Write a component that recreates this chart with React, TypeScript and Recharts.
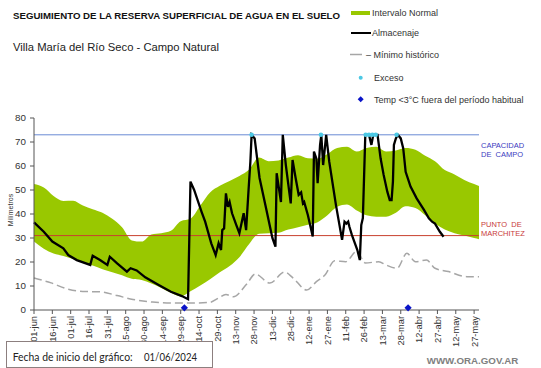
import React from "react";
import {
  ComposedChart,
  Area,
  Line,
  Scatter,
  XAxis,
  YAxis,
  ReferenceLine,
} from "recharts";

// days counted from 01/06/2024
const tickDays = [0, 15, 30, 45, 60, 75, 90, 105, 120, 135, 150, 165, 180, 195, 210, 225, 240, 255, 270, 285, 300, 315, 330, 345, 360];
const tickLabels = [
  "01-jun", "16-jun", "01-jul", "16-jul", "31-jul", "15-ago", "30-ago", "14-sep", "29-sep",
  "14-oct", "29-oct", "13-nov", "28-nov", "13-dic", "28-dic", "12-ene", "27-ene", "11-feb",
  "26-feb", "13-mar", "28-mar", "12-abr", "27-abr", "12-may", "27-may",
];

const bandDays = [0, 8, 16, 24, 32, 40, 48, 56, 64, 72, 80, 88, 96, 104, 112, 120, 128, 136, 144, 152, 160, 168, 176, 184, 192, 200, 208, 216, 224, 232, 240, 248, 256, 264, 272, 280, 288, 296, 304, 312, 320, 328, 336, 344, 352, 360, 364];
const bandLow = [28.5, 25.5, 23.5, 22.5, 21.2, 19.6, 18.5, 17, 15.7, 14.5, 13, 12.5, 11, 9.2, 7.2, 5.7, 7.8, 10.2, 12.8, 15.7, 18.3, 22, 27.5, 31.8, 32, 32.2, 33.5, 34.5, 35.5, 36.6, 39.5, 43, 44, 41.5, 39.5, 38.9, 38.9, 40.5, 43.2, 42.5, 39.5, 36, 33.5, 32, 31, 30, 29.5];
const bandHigh = [52.5, 51, 47.5, 45.4, 45.5, 43.5, 42, 40.5, 38, 34.5, 29, 28.5, 31.5, 32, 33, 37, 38, 43.5, 49, 51.8, 53.8, 55.8, 58.5, 63.5, 62, 62.3, 63.5, 64.5, 63.2, 63, 65, 67.5, 68, 66, 67.5, 68, 66, 66.5, 67.5, 66.8, 64.3, 62, 58.3, 56.5, 54.2, 52.5, 51.7];

const storageDays = [0, 8, 15, 24, 28, 35, 46, 48, 54, 60, 62, 68, 76, 79, 84, 91, 102, 112, 121, 126, 128, 131, 137, 140, 145, 148.6, 151, 153, 154, 155.5, 157, 158.6, 160, 162, 165.5, 168, 171.5, 173.5, 175.5, 177, 178, 180.5, 184.5, 190, 195, 197.5, 198.5, 202, 203.5, 206, 210, 211.5, 214, 216.5, 218.5, 220, 221, 224, 228, 229, 231, 232, 234, 235, 236.5, 239, 241.5, 247, 252, 254, 255.5, 257, 258, 260, 264.5, 266.5, 267.7, 269, 271, 274, 276, 277.5, 281, 283.5, 286, 289, 291, 292.5, 293.6, 294.4, 296, 297.6, 300, 302, 304, 308, 313, 319, 323, 325.6, 328, 332, 335];
const storageValues = [36.5, 32.6, 28.5, 25.7, 22.9, 20.8, 18.8, 22.6, 20.8, 18.8, 22.2, 19.4, 16, 17.4, 16.5, 13.6, 10.4, 7.6, 5.8, 4.5, 53.5, 50, 41, 36.8, 27.8, 22.9, 27.8, 25, 33.3, 34, 48.6, 43, 45, 40.3, 35.4, 32, 40.3, 33.3, 50, 61.8, 73, 71.5, 55, 42, 30, 26.4, 57, 45, 73, 60.4, 44.4, 62.5, 55, 48, 49, 44.4, 45, 39.6, 30.6, 66, 63, 52.8, 68.8, 73, 60.4, 73, 61.8, 43.7, 29.2, 36.8, 36, 36.8, 34.7, 31.3, 25, 20.8, 35.4, 38.3, 73, 73, 68.8, 73, 73, 63.2, 56.3, 49.3, 45.8, 45.8, 53.5, 68.8, 71.5, 73, 71.5, 67.4, 57.6, 51.4, 46.5, 41.7, 38.2, 36.8, 36, 32.6, 30.5];

const minDays = [0, 14, 27, 40, 54, 68, 81, 97, 117, 133, 144, 151, 157, 163, 174, 181, 193, 205, 212, 223, 231, 238, 246, 255, 264, 271, 282, 288, 297, 305, 312, 321, 328, 339, 354, 364];
const minValues = [13.3, 11.3, 8.8, 7.7, 7.6, 6, 4.4, 3.3, 2.9, 2.9, 3.2, 5, 6.5, 5.5, 10.8, 15, 11.2, 15.8, 13.3, 8.3, 11.8, 14.6, 20.5, 20.1, 24.5, 19.6, 20.1, 18.75, 17.4, 23.6, 20.1, 20.8, 17.4, 16, 13.9, 13.9];

const excesoDays = [178, 234.7, 271.3, 274, 276.8, 279.5, 296.6];
const excesoValue = 73;
const tempDays = [123, 306];
const tempValue = 0.9;

const capacidadCampo = 73;
const puntoMarchitez = 31;

const bandData = bandDays.map((day, i) => ({ day, range: [bandLow[i], bandHigh[i]] }));
const storageData = storageDays.map((day, i) => ({ day, value: storageValues[i] }));
const minData = minDays.map((day, i) => ({ day, value: minValues[i] }));
const excesoData = excesoDays.map((day) => ({ day, value: excesoValue }));
const tempData = tempDays.map((day) => ({ day, value: tempValue }));

const DayTick = (props: any) => {
  const { x, y, payload } = props;
  const bx = x + 3.4;
  return (
    <text
      x={bx}
      y={y}
      transform={`rotate(-90, ${bx}, ${y})`}
      textAnchor="end"
      fontSize={9.3}
      fill="#333"
    >
      {tickLabels[tickDays.indexOf(payload.value)]}
    </text>
  );
};

const Dot = (props: any) => (
  <circle cx={props.cx} cy={props.cy} r={2.3} fill="#4cc8e4" />
);

const Diamond = (props: any) => {
  const { cx, cy } = props;
  return (
    <polygon
      points={`${cx},${cy - 3.6} ${cx + 3.6},${cy} ${cx},${cy + 3.6} ${cx - 3.6},${cy}`}
      fill="#0a14c8"
    />
  );
};

const App = () => {
  return (
    <div
      style={{
        position: "absolute",
        left: 0,
        top: 0,
        width: 541,
        height: 368,
        background: "#fff",
        fontFamily: '"Liberation Sans", Arial, sans-serif',
      }}
    >
      <ComposedChart width={541} height={368} margin={{ top: 118, right: 62, bottom: 18, left: 0 }}>
        <XAxis
          dataKey="day"
          type="number"
          domain={[0, 364]}
          ticks={tickDays}
          interval={0}
          tick={<DayTick />}
          tickSize={4}
          tickMargin={2}
          height={40}
          stroke="#555"
        />
        <YAxis
          type="number"
          domain={[0, 80]}
          ticks={[0, 10, 20, 30, 40, 50, 60, 70, 80]}
          width={34}
          tickSize={4}
          tickMargin={4}
          tick={{ fontSize: 9.8, fill: "#333" }}
          stroke="#555"
        />
        <Area
          data={bandData}
          dataKey="range"
          type="monotone"
          fill="#99c800"
          fillOpacity={1}
          stroke="none"
          isAnimationActive={false}
        />
        <ReferenceLine y={capacidadCampo} stroke="#6a8ad4" strokeWidth={1} />
        <ReferenceLine y={puntoMarchitez} stroke="#c8402e" strokeWidth={1} />
        <Line
          data={minData}
          dataKey="value"
          type="monotone"
          stroke="#a6a6a6"
          strokeWidth={1.5}
          strokeDasharray="8 4"
          dot={false}
          isAnimationActive={false}
        />
        <Line
          data={storageData}
          dataKey="value"
          type="linear"
          stroke="#000"
          strokeWidth={2.3}
          dot={false}
          isAnimationActive={false}
        />
        <Scatter data={excesoData} dataKey="value" shape={<Dot />} isAnimationActive={false} />
        <Scatter data={tempData} dataKey="value" shape={<Diamond />} isAnimationActive={false} />
      </ComposedChart>

      <svg
        width={541}
        height={368}
        style={{ position: "absolute", left: 0, top: 0, pointerEvents: "none" }}
      >
        <text x={13} y={19} fontSize={9.5} fontWeight="bold" fill="#111" textLength={327} lengthAdjust="spacingAndGlyphs">
          SEGUIMIENTO DE LA RESERVA SUPERFICIAL DE AGUA EN EL SUELO
        </text>
        <text x={13} y={50.5} fontSize={11.2} fill="#222" textLength={206} lengthAdjust="spacingAndGlyphs">
          Villa María del Río Seco - Campo Natural
        </text>

        {/* legend */}
        <rect x={351} y={11} width={19} height={4} fill="#99c800" />
        <text x={372} y={16.2} fontSize={9} fill="#333">Intervalo Normal</text>
        <line x1={351} x2={371} y1={33} y2={33} stroke="#000" strokeWidth={2} />
        <text x={372} y={36.2} fontSize={9} fill="#333">Almacenaje</text>
        <line x1={350} x2={362} y1={54.5} y2={54.5} stroke="#a6a6a6" strokeWidth={1.5} />
        <text x={366} y={57.7} fontSize={9} fill="#333">– Mínimo histórico</text>
        <circle cx={360.7} cy={77.7} r={2} fill="#4cc8e4" />
        <text x={374} y={80.9} fontSize={9} fill="#333">Exceso</text>
        <polygon points="360.7,96.3 363.7,99.3 360.7,102.3 357.7,99.3" fill="#0a14c8" />
        <text x={374} y={102.5} fontSize={9} fill="#333">Temp &lt;3°C fuera del período habitual</text>

        {/* right side labels */}
        <text x={481} y={147.7} fontSize={7.5} fill="#3b3bc0">CAPACIDAD</text>
        <text x={481} y={156.8} fontSize={7.5} fill="#3b3bc0" style={{ whiteSpace: "pre" }}>DE  CAMPO</text>
        <text x={481} y={227} fontSize={7.5} fill="#c83a3a" style={{ whiteSpace: "pre" }}>PUNTO  DE</text>
        <text x={481} y={236} fontSize={7.5} fill="#c83a3a">MARCHITEZ</text>

        <text
          x={12.5}
          y={210}
          transform="rotate(-90, 12.5, 210)"
          textAnchor="middle"
          fontSize={7}
          fill="#333"
        >
          Milímetros
        </text>

        {/* footer */}
        <rect x={6.5} y={341.5} width={206} height={26} fill="#fff" stroke="#8c7f7f" strokeWidth={1} />
        <text x={12.7} y={361.3} fontSize={11} fill="#222" fontFamily="Lato, sans-serif" textLength={120} lengthAdjust="spacingAndGlyphs">
          Fecha de inicio del gráfico:
        </text>
        <text x={144} y={361.3} fontSize={11} fill="#222" fontFamily="Lato, sans-serif" textLength={53} lengthAdjust="spacingAndGlyphs">
          01/06/2024
        </text>
        <text x={426.7} y={363.5} fontSize={9.6} fontWeight="bold" fill="#808080" textLength={91.6} lengthAdjust="spacingAndGlyphs">
          WWW.ORA.GOV.AR
        </text>
      </svg>
    </div>
  );
};

export default App;
